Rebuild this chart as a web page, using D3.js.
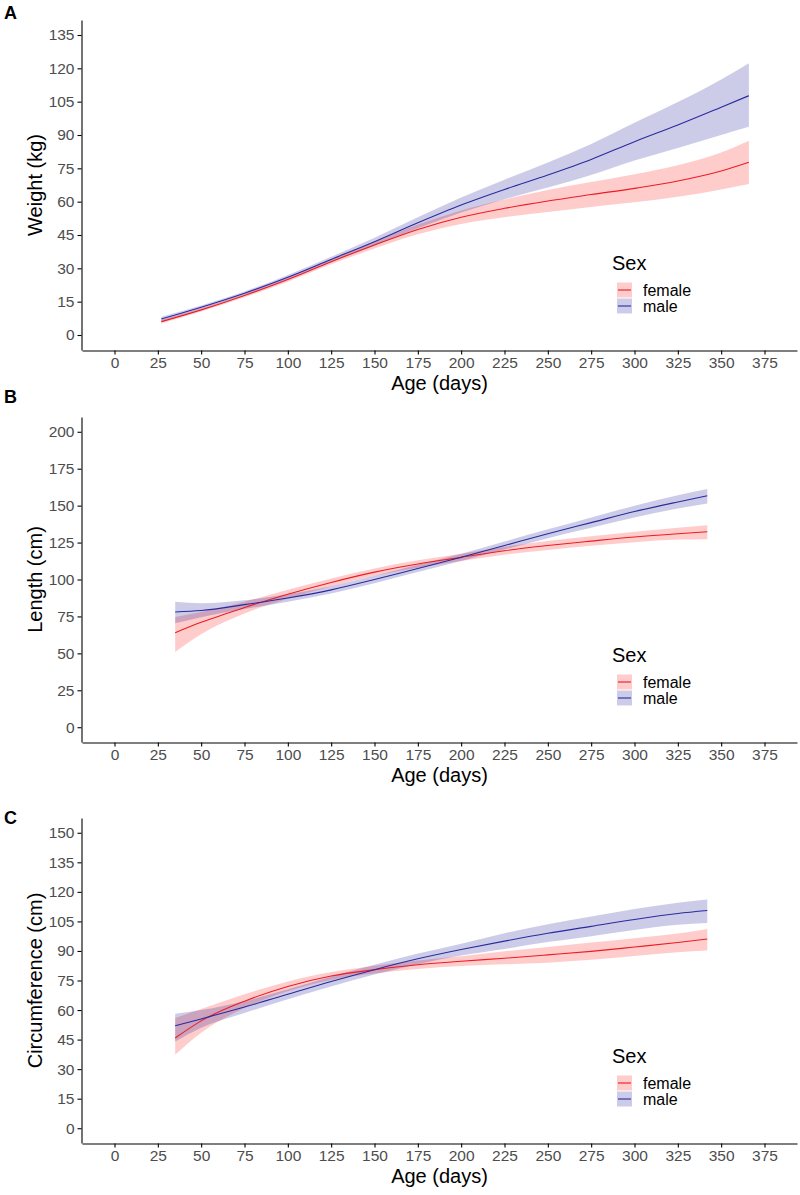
<!DOCTYPE html>
<html>
<head>
<meta charset="utf-8">
<script src="https://cdn.jsdelivr.net/npm/d3@7"></script>
<style>
  body { margin: 0; background: #fff; }
  svg { font-family: "Liberation Sans", Arial, sans-serif; }
</style>
</head>
<body>
<svg id="chart" width="800" height="1195"></svg>
<script>
// weight panel
const weightDays = [27, 50, 75, 100, 125, 150, 175, 200, 225, 250, 275, 300, 325, 350, 366];
const weightMale = [7.2, 12.5, 18.8, 26, 34, 42, 50.5, 58.5, 65.5, 72, 79, 87, 94.5, 102.5, 107.7];
const weightMaleLo = [6.2, 11.7, 18.0, 25.0, 32.8, 40.2, 48.0, 55.1, 61.1, 66.4, 72.0, 78.5, 84.2, 90.0, 93.7];
const weightMaleHi = [8.2, 13.3, 19.6, 27.0, 35.2, 43.8, 53.0, 61.9, 69.9, 77.6, 86.0, 95.5, 104.8, 115.0, 122.3];
const weightFemale = [6.0, 11.3, 17.8, 25, 33, 40.5, 47.5, 53, 57, 60.3, 63.2, 66, 69.3, 73.8, 77.7];
const weightFemaleLo = [5.2, 10.6, 17.0, 24.0, 31.8, 38.9, 45.3, 50.0, 53.0, 55.3, 57.6, 59.7, 62.2, 65.5, 68.0];
const weightFemaleHi = [6.8, 12.0, 18.6, 26.0, 34.2, 42.1, 49.7, 56.0, 61.0, 65.3, 68.8, 72.3, 76.4, 82.1, 87.4];

// length panel
const lengthDays = [35, 50, 75, 100, 125, 150, 175, 200, 225, 250, 275, 300, 325, 342];
const lengthMale = [78, 79, 83, 87.5, 93, 100, 107.5, 115, 123, 131, 138.5, 146, 152.5, 156.7];
const lengthMaleLo = [70.4, 74.5, 80, 85, 90.5, 97.5, 105, 112.5, 120.3, 128, 135, 142, 148, 151.5];
const lengthMaleHi = [84.9, 84, 86, 90, 95.5, 102.5, 110, 117.5, 125.7, 134, 142, 150, 157, 161.2];
const lengthFemale = [64, 71, 81, 90, 98, 105, 110.5, 115, 119.5, 123, 126, 128.8, 131, 132.3];
const lengthFemaleLo = [51, 63, 77, 87, 95.3, 102.5, 108, 112.5, 116.8, 120, 122.8, 125.3, 127, 127.3];
const lengthFemaleHi = [74.7, 78, 85, 93, 100.7, 107.5, 113, 117.5, 122.2, 126, 129.2, 132.3, 135, 136.8];

// circumference panel
const circDays = [35, 50, 75, 100, 125, 150, 175, 200, 225, 250, 275, 300, 325, 342];
const circMale = [52, 55.5, 61.5, 68, 74.5, 80.5, 86, 90.7, 95, 99, 102.5, 106, 109, 110.5];
const circMaleLo = [44, 51, 58.5, 65.5, 72, 78, 83.3, 87.7, 91, 94.5, 97.5, 100.7, 103.3, 104.2];
const circMaleHi = [58.1, 60, 64.5, 70.5, 77, 83, 88.7, 93.7, 99, 103.5, 107.5, 111.3, 114.5, 116.1];
const circFemale = [45.8, 54.5, 64.5, 72, 77.3, 80.5, 83, 84.8, 86.3, 88, 89.8, 92, 94.3, 96.1];
const circFemaleLo = [37.3, 48.5, 61, 69.5, 75.3, 78.5, 80.8, 82.3, 83.2, 84, 85.5, 87.5, 89.3, 90.2];
const circFemaleHi = [56, 60.5, 68, 74.5, 79.3, 82.5, 85.2, 87.3, 89.8, 92, 94.3, 96.5, 98.8, 101.2];

const sexes = ["female", "male"];
const xTicks = d3.range(0, 376, 25);

const lineCol = { female: "#ec1c24", male: "#2a2a9e" };
const fillCol = { female: "rgba(255,0,0,0.2)", male: "rgba(0,0,139,0.2)" };

const svg = d3.select("#chart");
const left = 82, right = 797;

const x = d3.scaleLinear().domain([-18.75, 393.75]).range([left, right]);

function drawPanel(p) {
  const pad = p.yMax * 0.05;
  const y = d3.scaleLinear().domain([-pad, p.yMax + pad]).range([p.bottom, p.top]);
  const g = svg.append("g");

  // bands then lines
  p.series.forEach(s => {
    const rows = p.days.map((d, i) => ({ d: d, lo: s.lo[i], hi: s.hi[i], m: s.mid[i] }));
    g.append("path")
      .attr("fill", fillCol[s.sex])
      .attr("d", d3.area().curve(d3.curveMonotoneX)
        .x(r => x(r.d)).y0(r => y(r.lo)).y1(r => y(r.hi))(rows));
    s.rows = rows;
  });
  p.series.forEach(s => {
    g.append("path")
      .attr("fill", "none")
      .attr("stroke", lineCol[s.sex])
      .attr("stroke-width", 1.1)
      .attr("d", d3.line().curve(d3.curveMonotoneX)
        .x(r => x(r.d)).y(r => y(r.m))(s.rows));
  });

  const yAxis = g.append("g")
    .attr("transform", `translate(${left - 0.5},0)`)
    .call(d3.axisLeft(y).tickValues(d3.range(0, p.yMax + 1, p.step))
      .tickSize(4).tickSizeOuter(0).tickPadding(3));
  const xAxis = g.append("g")
    .attr("transform", `translate(0,${p.bottom + 0.5})`)
    .call(d3.axisBottom(x).tickValues(xTicks).tickSize(4).tickSizeOuter(0).tickPadding(2));

  [yAxis, xAxis].forEach(a => {
    a.selectAll("path, line").attr("stroke", "#000").attr("stroke-width", 1.1);
    a.selectAll("text").attr("fill", "#4d4d4d").style("font-size", "15.5px");
  });

  g.append("text")
    .attr("x", (left + right) / 2).attr("y", p.bottom + 40)
    .attr("text-anchor", "middle").style("font-size", "20px")
    .text("Age (days)");

  g.append("text")
    .attr("transform", `translate(42,${(p.top + p.bottom) / 2}) rotate(-90)`)
    .attr("text-anchor", "middle").style("font-size", "20px")
    .text(p.yTitle);

  g.append("text")
    .attr("x", 4).attr("y", p.letterY)
    .style("font-size", "18px").style("font-weight", "bold")
    .text(p.letter);

  // legend
  const lg = g.append("g").attr("transform", `translate(612,${p.bottom - 87})`);
  lg.append("text").attr("y", 7).style("font-size", "20px").text("Sex");
  sexes.forEach((sx, i) => {
    const ky = 27 + i * 16;
    lg.append("rect").attr("x", 5).attr("y", ky - 7.5).attr("width", 15).attr("height", 15)
      .attr("fill", fillCol[sx]);
    lg.append("line").attr("x1", 6).attr("x2", 19).attr("y1", ky).attr("y2", ky)
      .attr("stroke", lineCol[sx]).attr("stroke-width", 1.1);
    lg.append("text").attr("x", 31).attr("y", ky + 5.5).style("font-size", "16px").text(sx);
  });
}

drawPanel({
  top: 20, bottom: 350, yMax: 135, step: 15, yTitle: "Weight (kg)", letter: "A", letterY: 19,
  days: weightDays,
  series: [
    { sex: "female", mid: weightFemale, lo: weightFemaleLo, hi: weightFemaleHi },
    { sex: "male", mid: weightMale, lo: weightMaleLo, hi: weightMaleHi }
  ]
});

drawPanel({
  top: 417, bottom: 742, yMax: 200, step: 25, yTitle: "Length (cm)", letter: "B", letterY: 403,
  days: lengthDays,
  series: [
    { sex: "female", mid: lengthFemale, lo: lengthFemaleLo, hi: lengthFemaleHi },
    { sex: "male", mid: lengthMale, lo: lengthMaleLo, hi: lengthMaleHi }
  ]
});

drawPanel({
  top: 818, bottom: 1143, yMax: 150, step: 15, yTitle: "Circumference (cm)", letter: "C", letterY: 824,
  days: circDays,
  series: [
    { sex: "female", mid: circFemale, lo: circFemaleLo, hi: circFemaleHi },
    { sex: "male", mid: circMale, lo: circMaleLo, hi: circMaleHi }
  ]
});
</script>
</body>
</html>
